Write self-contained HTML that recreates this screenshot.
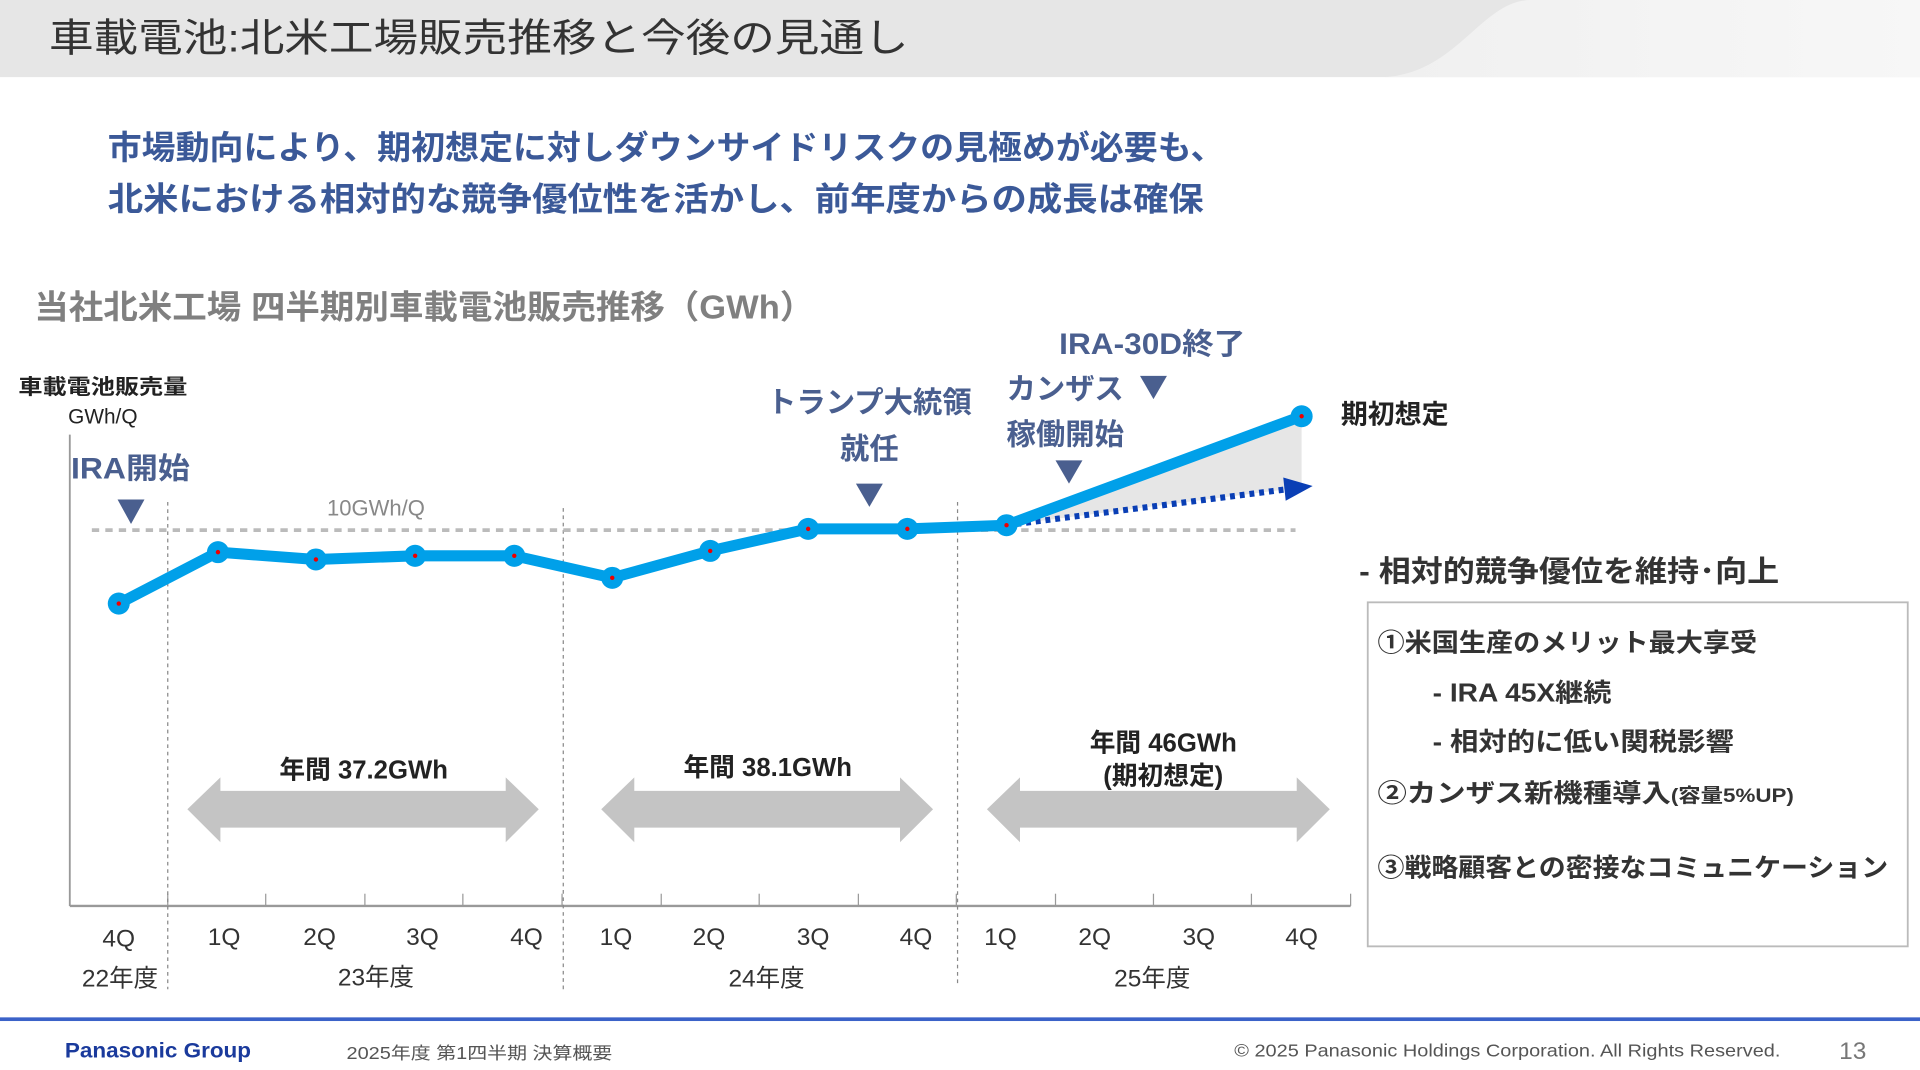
<!DOCTYPE html>
<html><head><meta charset="utf-8"><style>
html,body{margin:0;padding:0;background:#fff;overflow:hidden}
svg{display:block}
text{font-family:"Liberation Sans","Noto Sans CJK JP",sans-serif}
</style></head><body>
<svg width="1920" height="1070" viewBox="0 0 1568 874" preserveAspectRatio="none" xmlns="http://www.w3.org/2000/svg">
<defs>
<linearGradient id="hg" x1="0" x2="1"><stop offset="0" stop-color="#f0f0f0"/><stop offset="1" stop-color="#f7f7f7"/></linearGradient>
</defs>
<rect x="0" y="0" width="1568" height="63" fill="#e6e6e6"/>
<path d="M1130,63 C1190,60 1210,0 1250,0 L1568,0 L1568,63 Z" fill="url(#hg)"/>
<text x="40" y="42" font-size="32" fill="#333" textLength="702" lengthAdjust="spacingAndGlyphs">車載電池:北米工場販売推移と今後の見通し</text>
<g fill="#3b5998" font-size="27" font-weight="bold">
<text x="88" y="130" textLength="912" lengthAdjust="spacingAndGlyphs">市場動向により、期初想定に対しダウンサイドリスクの見極めが必要も、</text>
<text x="88" y="172" textLength="895" lengthAdjust="spacingAndGlyphs">北米における相対的な競争優位性を活かし、前年度からの成長は確保</text>
</g>
<text x="28" y="260" font-size="27" font-weight="bold" fill="#808080" textLength="637" lengthAdjust="spacingAndGlyphs">当社北米工場 四半期別車載電池販売推移（GWh）</text>
<text x="15" y="322" font-size="17" font-weight="bold" fill="#222" textLength="138" lengthAdjust="spacingAndGlyphs">車載電池販売量</text>
<text x="84" y="346" font-size="17" fill="#222" text-anchor="middle">GWh/Q</text>
<line x1="57" y1="355" x2="57" y2="740" stroke="#999" stroke-width="1.5"/>
<line x1="57" y1="740" x2="1103" y2="740" stroke="#999" stroke-width="2"/>
<g stroke="#999" stroke-width="1">
<line x1="137" y1="730" x2="137" y2="740"/><line x1="217" y1="730" x2="217" y2="740"/><line x1="298" y1="730" x2="298" y2="740"/><line x1="378" y1="730" x2="378" y2="740"/><line x1="459" y1="730" x2="459" y2="740"/><line x1="540" y1="730" x2="540" y2="740"/><line x1="620" y1="730" x2="620" y2="740"/><line x1="701" y1="730" x2="701" y2="740"/><line x1="781" y1="730" x2="781" y2="740"/><line x1="862" y1="730" x2="862" y2="740"/><line x1="942" y1="730" x2="942" y2="740"/><line x1="1022" y1="730" x2="1022" y2="740"/><line x1="1103" y1="730" x2="1103" y2="740"/>
</g>
<g stroke="#888" stroke-width="1" stroke-dasharray="3,3">
<line x1="137" y1="410" x2="137" y2="808"/><line x1="460" y1="415" x2="460" y2="810"/><line x1="782" y1="410" x2="782" y2="805"/>
</g>
<line x1="75" y1="433" x2="1058" y2="433" stroke="#bbb" stroke-width="3" stroke-dasharray="6,5"/>
<text x="307" y="421" font-size="18" fill="#888" text-anchor="middle">10GWh/Q</text>
<polygon points="822,429 1063,340 1063,398" fill="#e6e6e6"/>
<line x1="822" y1="429" x2="1056" y2="399" stroke="#0a3fb5" stroke-width="5" stroke-dasharray="4,4"/>
<polygon points="1048,390 1072,397 1050,409" fill="#0a3fb5"/>
<polyline points="97,493 178,451 258,457 339,454 420,454 500,472 580,450 660,432 741,432 822,429 1063,340" fill="none" stroke="#00a0e9" stroke-width="9" stroke-linejoin="round"/>
<g fill="#00a0e9">
<circle cx="97" cy="493" r="9"/><circle cx="178" cy="451" r="9"/><circle cx="258" cy="457" r="9"/><circle cx="339" cy="454" r="9"/><circle cx="420" cy="454" r="9"/><circle cx="500" cy="472" r="9"/><circle cx="580" cy="450" r="9"/><circle cx="660" cy="432" r="9"/><circle cx="741" cy="432" r="9"/><circle cx="822" cy="429" r="9"/><circle cx="1063" cy="340" r="9"/>
</g>
<g fill="#e00">
<circle cx="97" cy="493" r="1.8"/><circle cx="178" cy="451" r="1.8"/><circle cx="258" cy="457" r="1.8"/><circle cx="339" cy="454" r="1.8"/><circle cx="420" cy="454" r="1.8"/><circle cx="500" cy="472" r="1.8"/><circle cx="580" cy="450" r="1.8"/><circle cx="660" cy="432" r="1.8"/><circle cx="741" cy="432" r="1.8"/><circle cx="822" cy="429" r="1.8"/><circle cx="1063" cy="340" r="1.8"/>
</g>
<g fill="#4a5f8f" font-size="24" font-weight="bold">
<text x="58" y="391" textLength="97" lengthAdjust="spacingAndGlyphs">IRA開始</text>
<text x="710" y="337" text-anchor="middle">トランプ大統領</text>
<text x="710" y="375" text-anchor="middle">就任</text>
<text x="865" y="289" textLength="152" lengthAdjust="spacingAndGlyphs">IRA-30D終了</text>
<text x="822" y="326">カンザス</text>
<text x="822" y="363">稼働開始</text>
</g>
<g fill="#4a5f8f">
<polygon points="96,408 118,408 107,428"/>
<polygon points="699,395 721,395 710,414"/>
<polygon points="931,307 953,307 942,326"/>
<polygon points="862,376 884,376 873,395"/>
</g>
<text x="1095" y="346" font-size="22" font-weight="bold" fill="#222">期初想定</text>
<g fill="#c4c4c4">
<polygon points="153,661 180,635 180,646 413,646 413,635 440,661 413,688 413,676 180,676 180,688"/>
<polygon points="491,661 518,635 518,646 735,646 735,635 762,661 735,688 735,676 518,676 518,688"/>
<polygon points="806,661 833,635 833,646 1059,646 1059,635 1086,661 1059,688 1059,676 833,676 833,688"/>
</g>
<g font-size="21" font-weight="bold" fill="#222" text-anchor="middle">
<text x="297" y="636">年間 37.2GWh</text>
<text x="627" y="634">年間 38.1GWh</text>
<text x="950" y="614">年間 46GWh</text>
<text x="950" y="641">(期初想定)</text>
</g>
<g font-size="20" fill="#333" text-anchor="middle">
<text x="97" y="773">4Q</text><text x="183" y="772">1Q</text><text x="261" y="772">2Q</text><text x="345" y="772">3Q</text><text x="430" y="772">4Q</text><text x="503" y="772">1Q</text><text x="579" y="772">2Q</text><text x="664" y="772">3Q</text><text x="748" y="772">4Q</text><text x="817" y="772">1Q</text><text x="894" y="772">2Q</text><text x="979" y="772">3Q</text><text x="1063" y="772">4Q</text>
<text x="98" y="806">22年度</text><text x="307" y="805">23年度</text><text x="626" y="806">24年度</text><text x="941" y="806">25年度</text>
</g>
<text x="1110" y="475" font-size="24" font-weight="bold" fill="#333" textLength="343" lengthAdjust="spacingAndGlyphs">- 相対的競争優位を維持･向上</text>
<rect x="1117" y="492" width="441" height="281" fill="#fff" stroke="#bbb" stroke-width="1.5"/>
<g font-size="21" font-weight="bold" fill="#333">
<text x="1125" y="532" textLength="310" lengthAdjust="spacingAndGlyphs">①米国生産のメリット最大享受</text>
<text x="1170" y="573" textLength="146" lengthAdjust="spacingAndGlyphs">- IRA 45X継続</text>
<text x="1170" y="613" textLength="246" lengthAdjust="spacingAndGlyphs">- 相対的に低い関税影響</text>
<text x="1125" y="655" textLength="340" lengthAdjust="spacingAndGlyphs">②カンザス新機種導入<tspan font-size="16">(容量5%UP)</tspan></text>
<text x="1125" y="716" textLength="417" lengthAdjust="spacingAndGlyphs">③戦略顧客との密接なコミュニケーション</text>
</g>
<rect x="0" y="831" width="1568" height="3" fill="#3b62c8"/>
<text x="53" y="864" font-size="17" font-weight="bold" fill="#1a3a9c" textLength="152" lengthAdjust="spacingAndGlyphs">Panasonic Group</text>
<text x="283" y="865" font-size="14" fill="#555" textLength="217" lengthAdjust="spacingAndGlyphs">2025年度 第1四半期 決算概要</text>
<text x="1008" y="863" font-size="14" fill="#555" textLength="446" lengthAdjust="spacingAndGlyphs">© 2025 Panasonic Holdings Corporation. All Rights Reserved.</text>
<text x="1502" y="865" font-size="20" fill="#777">13</text>
</svg>
</body></html>
